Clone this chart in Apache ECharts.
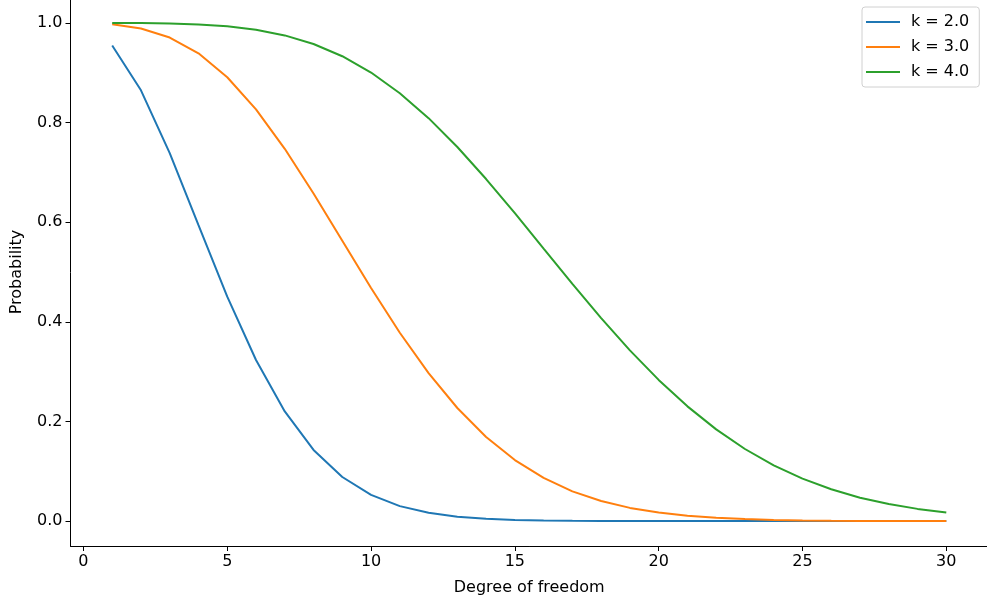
<!DOCTYPE html>
<html>
<head>
<meta charset="utf-8">
<script src="https://cdn.jsdelivr.net/npm/echarts@6/dist/echarts.min.js"></script>
<style>html,body{margin:0;padding:0;background:#fff}#c{width:987px;height:603px}</style>
</head>
<body>
<div id="c"></div>
<script>
const dof = [1,2,3,4,5,6,7,8,9,10,11,12,13,14,15,16,17,18,19,20,21,22,23,24,25,26,27,28,29,30];
const k2 = [0.9545,0.8647,0.7385,0.5940,0.4505,0.3233,0.2201,0.1429,0.0885,0.0527,0.0300,0.0166,0.0087,0.0045,0.0022,0.0011,0.0005,0.0002,0.0001,0.0000,0.0000,0.0000,0.0000,0.0000,0.0000,0.0000,0.0000,0.0000,0.0000,0.0000];
const k3 = [0.9973,0.9889,0.9707,0.9389,0.8909,0.8264,0.7473,0.6577,0.5627,0.4679,0.3781,0.2971,0.2270,0.1689,0.1225,0.0866,0.0597,0.0403,0.0265,0.0171,0.0108,0.0067,0.0040,0.0024,0.0014,0.0008,0.0004,0.0003,0.0001,0.0001];
const k4 = [0.9999,0.9997,0.9989,0.9970,0.9932,0.9863,0.9749,0.9576,0.9331,0.9004,0.8589,0.8088,0.7509,0.6866,0.6180,0.5470,0.4762,0.4075,0.3427,0.2834,0.2303,0.1841,0.1447,0.1119,0.0852,0.0638,0.0470,0.0342,0.0245,0.0173];
const seriesNames = ['k = 2.0','k = 3.0','k = 4.0'];
const xTicks = [0,5,10,15,20,25,30];
const yTicks = [0,0.2,0.4,0.6,0.8,1.0];

const colors = ['#1f77b4','#ff7f0e','#2ca02c'];
const font = 'DejaVu Sans';
const fs = 16;
const chart = echarts.init(document.getElementById('c'), null, {renderer:'canvas'});
const mk = (name, vals, i) => ({
  name, type:'line', data: dof.map((d,j)=>[d, vals[j]]),
  showSymbol:false, symbol:'none', lineStyle:{width:2, color:colors[i]}, itemStyle:{color:colors[i]},
  animation:false
});
chart.setOption({
  animation:false,
  textStyle:{fontFamily:font},
  grid:{left:70.5, right:-1, top:-2, bottom:57, containLabel:false, outerBoundsMode:'none'},
  legend:{
    orient:'vertical', left:862, top:7,
    data: seriesNames.map(n=>({name:n, icon:'rect'})),
    itemWidth:34, itemHeight:2, itemGap:9,
    padding:[7,10,7,4],
    borderColor:'#d0d0d0', borderWidth:1, borderRadius:3,
    textStyle:{fontFamily:font, fontSize:fs, color:'#000', padding:[0,0,0,6]}
  },
  xAxis:{
    type:'value', min:-0.45, max:31.45,
    name:'Degree of freedom', nameLocation:'middle', nameGap:34,
    nameTextStyle:{fontFamily:font, fontSize:fs, color:'#000'},
    axisLine:{onZero:false, lineStyle:{color:'#000', width:1}},
    axisTick:{show:true, length:5, lineStyle:{color:'#000'}, customValues:xTicks},
    axisLabel:{customValues:xTicks, color:'#000', fontFamily:font, fontSize:fs, margin:8},
    splitLine:{show:false}
  },
  yAxis:{
    type:'value', min:-0.05, max:1.05,
    name:'Probability', nameLocation:'middle', nameGap:46, nameRotate:90,
    nameTextStyle:{fontFamily:font, fontSize:fs, color:'#000'},
    axisLine:{show:true, onZero:false, lineStyle:{color:'#000', width:1}},
    axisTick:{show:true, length:5, lineStyle:{color:'#000'}, customValues:yTicks},
    axisLabel:{customValues:yTicks, color:'#000', fontFamily:font, fontSize:fs, margin:8, formatter:v=>v.toFixed(1)},
    splitLine:{show:false}
  },
  series:[mk(seriesNames[0],k2,0), mk(seriesNames[1],k3,1), mk(seriesNames[2],k4,2)]
});
</script>
</body>
</html>
